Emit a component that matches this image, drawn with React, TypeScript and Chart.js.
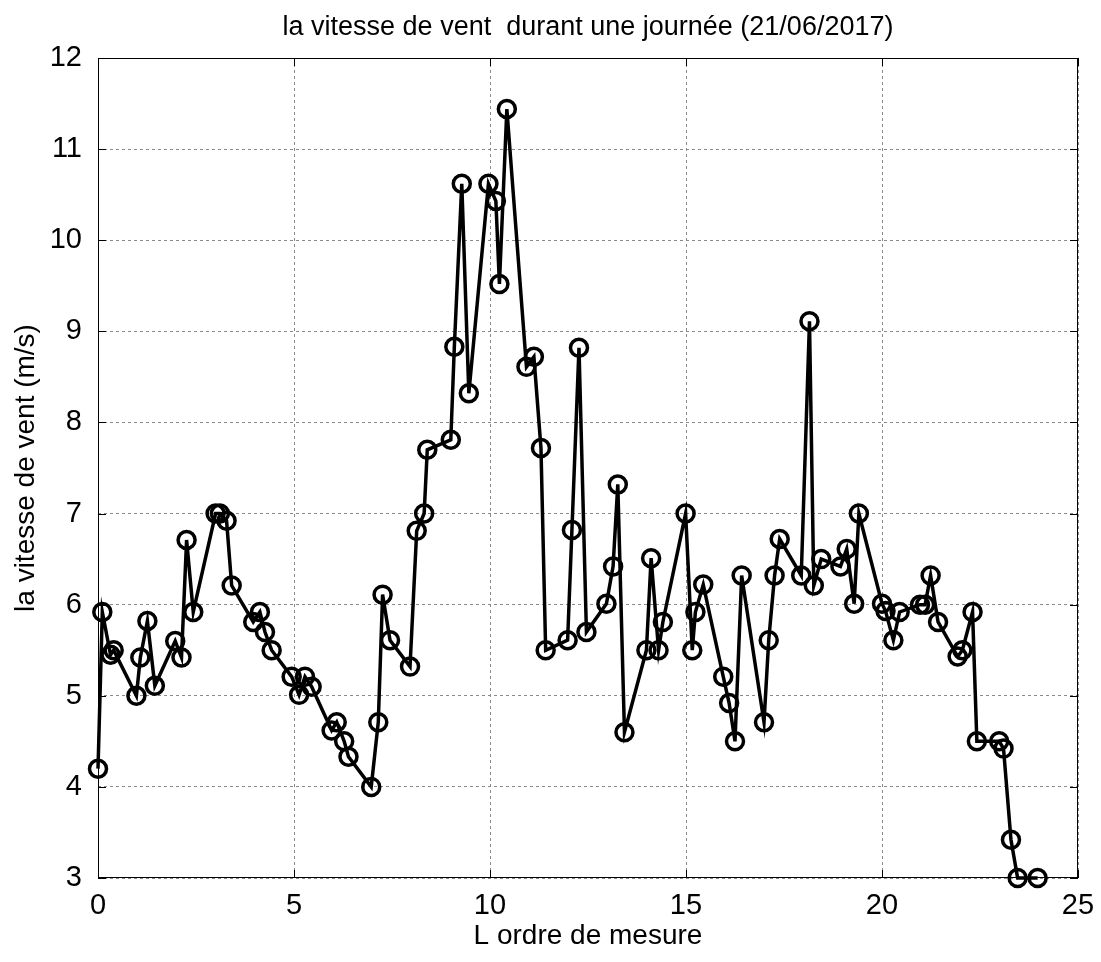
import React, { useEffect, useRef } from "react";
import { Chart, registerables } from "chart.js";

Chart.register(...registerables);

const measureOrder = [
  0, 0.11, 0.32, 0.4, 0.98, 1.08, 1.26, 1.45, 1.97, 2.13, 2.26, 2.43,
  3.0, 3.11, 3.28, 3.41, 3.96, 4.13, 4.26, 4.43, 4.94, 5.13, 5.28, 5.45,
  5.96, 6.09, 6.28, 6.39, 6.97, 7.15, 7.26, 7.45, 7.96, 8.13, 8.32, 8.4,
  9.0, 9.09, 9.28, 9.46, 9.96, 10.15, 10.24, 10.43, 10.93, 11.12, 11.3, 11.42,
  11.98, 12.09, 12.27, 12.46, 12.97, 13.14, 13.26, 13.43, 13.99, 14.11, 14.3, 14.41,
  14.99, 15.16, 15.24, 15.44, 15.95, 16.1, 16.25, 16.42, 16.99, 17.11, 17.26, 17.39,
  17.94, 18.15, 18.26, 18.45, 18.94, 19.1, 19.29, 19.41, 20.0, 20.09, 20.29, 20.45,
  20.97, 21.1, 21.24, 21.43, 21.93, 22.05, 22.31, 22.42, 22.99, 23.1, 23.29, 23.46,
  23.97,
];

const windSpeed = [
  4.2, 5.92, 5.45, 5.5, 5.0, 5.42, 5.82, 5.11, 5.6, 5.42, 6.71, 5.92,
  7.0, 7.0, 6.92, 6.21, 5.81, 5.92, 5.7, 5.5, 5.21, 5.01, 5.21, 5.1,
  4.62, 4.71, 4.5, 4.33, 4.0, 4.71, 6.11, 5.61, 5.32, 6.81, 7.0, 7.7,
  7.81, 8.83, 10.62, 8.32, 10.62, 10.43, 9.52, 11.44, 8.61, 8.72, 7.72, 5.5,
  5.61, 6.82, 8.82, 5.7, 6.01, 6.42, 7.32, 4.6, 5.5, 6.51, 5.5, 5.81,
  7.0, 5.5, 5.92, 6.22, 5.21, 4.92, 4.5, 6.32, 4.71, 5.61, 6.32, 6.72,
  6.32, 9.11, 6.21, 6.5, 6.42, 6.61, 6.01, 7.0, 6.01, 5.93, 5.61, 5.92,
  6.0, 6.0, 6.32, 5.81, 5.43, 5.5, 5.92, 4.5, 4.5, 4.42, 3.42, 3.0,
  3.0,
];

const xTicks = [0, 5, 10, 15, 20, 25];
const yTicks = [3, 4, 5, 6, 7, 8, 9, 10, 11, 12];

const chartTitle = "la vitesse de vent  durant une journée (21/06/2017)";
const xLabel = "L ordre de mesure";
const yLabel = "la vitesse de vent (m/s)";

const FONT = '"Liberation Sans", Arial, Helvetica, sans-serif';

const framePlugin = {
  id: "matlabFrame",
  beforeDatasetsDraw(chart: any) {
    const { ctx, chartArea: a, scales } = chart;
    ctx.save();
    ctx.strokeStyle = "#000";
    ctx.lineWidth = 1;
    ctx.setLineDash([]);
    ctx.strokeRect(a.left + 0.5, a.top + 0.5, a.right - a.left - 1, a.bottom - a.top - 1);
    const tl = 8;
    ctx.beginPath();
    xTicks.forEach((v) => {
      const px = Math.round(scales.x.getPixelForValue(v)) + 0.5;
      ctx.moveTo(px, a.bottom);
      ctx.lineTo(px, a.bottom - tl);
      ctx.moveTo(px, a.top);
      ctx.lineTo(px, a.top + tl);
    });
    yTicks.forEach((v) => {
      const py = Math.round(scales.y.getPixelForValue(v)) + 0.5;
      ctx.moveTo(a.left, py);
      ctx.lineTo(a.left + tl, py);
      ctx.moveTo(a.right, py);
      ctx.lineTo(a.right - tl, py);
    });
    ctx.stroke();
    ctx.restore();
  },
  afterDraw(chart: any) {
    const { ctx, chartArea: a } = chart;
    ctx.save();
    ctx.fillStyle = "#000";
    ctx.font = `27px ${FONT}`;
    ctx.textAlign = "center";
    ctx.textBaseline = "middle";
    ctx.fillText(chartTitle, (a.left + a.right) / 2, 28);
    ctx.restore();
  },
};

export default function App() {
  const canvasRef = useRef<HTMLCanvasElement | null>(null);

  useEffect(() => {
    document.body.style.margin = "0";
    const canvas = canvasRef.current;
    if (!canvas) return;
    const points = measureOrder.map((x, i) => ({ x, y: windSpeed[i] }));
    const chart = new Chart(canvas, {
      type: "line",
      data: {
        datasets: [
          {
            data: points,
            borderColor: "#000",
            borderWidth: 3.5,
            pointRadius: 8.5,
            pointBorderWidth: 3.5,
            pointBackgroundColor: "rgba(0,0,0,0)",
            pointBorderColor: "#000",
            tension: 0,
            clip: false as any,
          },
        ],
      },
      options: {
        animation: false,
        responsive: false,
        devicePixelRatio: 1,
        layout: { padding: { top: 58, right: 23, left: 0, bottom: 0 } },
        plugins: {
          legend: { display: false },
          title: { display: false },
          tooltip: { enabled: false },
        },
        scales: {
          x: {
            type: "linear",
            min: 0,
            max: 25,
            afterFit: (s: any) => {
              s.height = 84;
              s.paddingLeft = 0;
              s.paddingRight = 0;
            },
            afterBuildTicks: (s: any) => {
              s.ticks = xTicks.map((v) => ({ value: v }));
            },
            ticks: {
              color: "#000",
              font: { family: FONT, size: 29 },
              padding: 11,
              maxRotation: 0,
            },
            grid: {
              color: "#8a8a8a",
              lineWidth: 1,
              drawTicks: false,
            },
            border: { display: false, dash: [3, 3] },
            title: {
              display: true,
              text: xLabel,
              color: "#000",
              font: { family: FONT, size: 28 },
              padding: { top: 0, bottom: 9 },
            },
          },
          y: {
            type: "linear",
            min: 3,
            max: 12,
            afterFit: (s: any) => {
              s.width = 98;
              s.paddingTop = 0;
              s.paddingBottom = 0;
            },
            afterBuildTicks: (s: any) => {
              s.ticks = yTicks.map((v) => ({ value: v }));
            },
            ticks: {
              color: "#000",
              font: { family: FONT, size: 29 },
              padding: 16,
            },
            grid: {
              color: "#8a8a8a",
              lineWidth: 1,
              drawTicks: false,
            },
            border: { display: false, dash: [3, 3] },
            title: {
              display: true,
              text: yLabel,
              color: "#000",
              font: { family: FONT, size: 28 },
              padding: { top: 9, bottom: 0 },
            },
          },
        },
      },
      plugins: [framePlugin],
    });
    return () => chart.destroy();
  }, []);

  return (
    <div style={{ width: 1101, height: 962 }}>
      <canvas ref={canvasRef} width={1101} height={962} style={{ display: "block" }} />
    </div>
  );
}
